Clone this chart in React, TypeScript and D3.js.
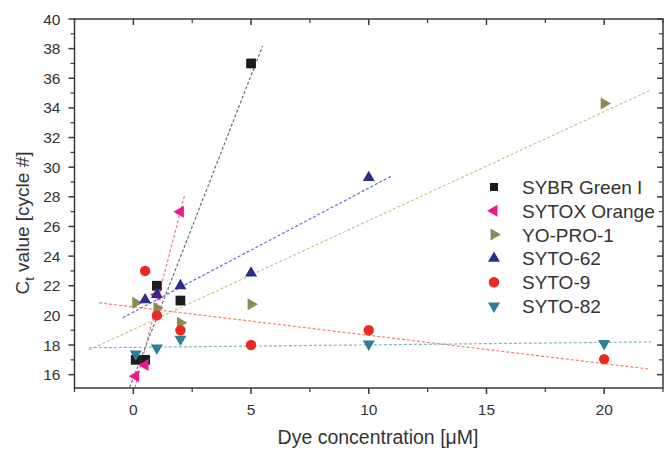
import React from 'react';
import * as d3 from 'd3';

// values
const seriesNames = ['SYBR Green I', 'SYTOX Orange', 'YO-PRO-1', 'SYTO-62', 'SYTO-9', 'SYTO-82'];
const sybrX = [0.1, 0.5, 1, 2, 5];
const sybrY = [17.0, 17.0, 22.0, 21.0, 37.0];
const sytoxX = [0.1, 0.5, 1, 2];
const sytoxY = [15.9, 16.65, 21.4, 27.0];
const yoproX = [0.1, 1, 2, 5, 20];
const yoproY = [20.85, 20.5, 19.5, 20.75, 34.3];
const syto62X = [0.5, 1, 2, 5, 10];
const syto62Y = [21.05, 21.4, 22.0, 22.85, 29.3];
const syto9X = [0.5, 1, 2, 5, 10, 20];
const syto9Y = [23.0, 20.0, 19.0, 18.0, 19.0, 17.05];
const syto82X = [0.1, 1, 2, 10, 20];
const syto82Y = [17.4, 17.8, 18.4, 18.07, 18.1];

const xTicks = [0, 5, 10, 15, 20];
const yTicks = [16, 18, 20, 22, 24, 26, 28, 30, 32, 34, 36, 38, 40];

const W = 664;
const H = 450;
const left = 74.5, right = 663, top = 19, bottom = 388;
const font = 'Liberation Sans, Arial, sans-serif';
const axisColor = '#3a3a3a';
const textColor = '#333';

const series = [
  { name: seriesNames[0], xs: sybrX, ys: sybrY, color: '#1c1c1c', fit: '#6a6a78', shape: 'square' },
  { name: seriesNames[1], xs: sytoxX, ys: sytoxY, color: '#e8198c', fit: '#f070b0', shape: 'left' },
  { name: seriesNames[2], xs: yoproX, ys: yoproY, color: '#8c8a52', fit: '#c4c48c', shape: 'right' },
  { name: seriesNames[3], xs: syto62X, ys: syto62Y, color: '#2a2d8e', fit: '#6a6ad0', shape: 'up' },
  { name: seriesNames[4], xs: syto9X, ys: syto9Y, color: '#ee2822', fit: '#f08068', shape: 'circle' },
  { name: seriesNames[5], xs: syto82X, ys: syto82Y, color: '#2e7e98', fit: '#80b8b4', shape: 'down' },
];

function symbolPath(shape: string) {
  if (shape === 'square') return d3.symbol(d3.symbolSquare, 95)() as string;
  if (shape === 'circle') return d3.symbol(d3.symbolCircle, 85)() as string;
  return d3.symbol(d3.symbolTriangle, 62)() as string;
}

function rotation(shape: string) {
  if (shape === 'left') return -90;
  if (shape === 'right') return 90;
  if (shape === 'down') return 180;
  return 0;
}

// least squares line, spanning the data range plus 10% on each side
function fitLine(xs: number[], ys: number[]) {
  const mx = d3.mean(xs) as number;
  const my = d3.mean(ys) as number;
  const sxy = d3.sum(xs, (x, i) => (x - mx) * (ys[i] - my));
  const sxx = d3.sum(xs, (x) => (x - mx) * (x - mx));
  const slope = sxy / sxx;
  const b = my - slope * mx;
  const [x0, x1] = d3.extent(xs) as [number, number];
  const pad = (x1 - x0) * 0.1;
  return [x0 - pad, x1 + pad].map((x) => [x, b + slope * x] as [number, number]);
}

export default function App() {
  const x = d3.scaleLinear().domain([-2.5, 22.5]).range([left, right]);
  const y = d3.scaleLinear().domain([15.1, 40]).range([bottom, top]);
  const line = d3.line<[number, number]>().x((d) => x(d[0])).y((d) => y(d[1]));

  const xMinor = d3.range(-2.5, 22.6, 2.5).filter((v) => !xTicks.includes(v));
  const yMinor = d3.range(16, 40, 1).filter((v) => !yTicks.includes(v));

  return (
    <svg width={W} height={H} style={{ position: 'absolute', left: 0, top: 0 }} fontFamily={font}>
      <rect width={W} height={H} fill="#fff" />
      <defs>
        <clipPath id="plot">
          <rect x={left} y={top} width={right - left} height={bottom - top} />
        </clipPath>
      </defs>

      {/* fit lines */}
      <g clipPath="url(#plot)">
        {series.map((s) => (
          <path
            key={s.name}
            d={line(fitLine(s.xs, s.ys)) as string}
            fill="none"
            stroke={s.fit}
            strokeWidth={1.2}
            strokeDasharray="3,2"
          />
        ))}
      </g>

      {/* markers */}
      {series.map((s) => (
        <g key={s.name}>
          {s.xs.map((v, i) => (
            <path
              key={i}
              d={symbolPath(s.shape)}
              fill={s.color}
              transform={`translate(${x(v)},${y(s.ys[i])}) rotate(${rotation(s.shape)})`}
            />
          ))}
        </g>
      ))}

      {/* frame */}
      <rect x={left} y={top} width={right - left} height={bottom - top} fill="none" stroke={axisColor} strokeWidth={1.5} />

      {/* x ticks */}
      {xTicks.map((t) => (
        <g key={t}>
          <line x1={x(t)} x2={x(t)} y1={bottom} y2={bottom + 6} stroke={axisColor} strokeWidth={1.5} />
          <line x1={x(t)} x2={x(t)} y1={top} y2={top + 6} stroke={axisColor} strokeWidth={1.5} />
          <text x={x(t)} y={bottom + 27} textAnchor="middle" fontSize={15.5} fill={textColor}>{t}</text>
        </g>
      ))}
      {xMinor.map((t) => (
        <g key={t}>
          <line x1={x(t)} x2={x(t)} y1={bottom} y2={bottom + 4} stroke={axisColor} strokeWidth={1.2} />
          <line x1={x(t)} x2={x(t)} y1={top} y2={top + 4} stroke={axisColor} strokeWidth={1.2} />
        </g>
      ))}

      {/* y ticks */}
      {yTicks.map((t) => (
        <g key={t}>
          <line x1={left - 6} x2={left} y1={y(t)} y2={y(t)} stroke={axisColor} strokeWidth={1.5} />
          <line x1={right - 6} x2={right} y1={y(t)} y2={y(t)} stroke={axisColor} strokeWidth={1.5} />
          <text x={left - 14} y={y(t) + 5.5} textAnchor="end" fontSize={15.5} fill={textColor}>{t}</text>
        </g>
      ))}
      {yMinor.map((t) => (
        <g key={t}>
          <line x1={left - 4} x2={left} y1={y(t)} y2={y(t)} stroke={axisColor} strokeWidth={1.2} />
          <line x1={right - 4} x2={right} y1={y(t)} y2={y(t)} stroke={axisColor} strokeWidth={1.2} />
        </g>
      ))}

      {/* axis titles */}
      <text x={378} y={444} textAnchor="middle" fontSize={19.5} fill={textColor}>
        Dye concentration [μM]
      </text>
      <text transform="translate(29,223) rotate(-90)" textAnchor="middle" fontSize={19} fill={textColor}>
        C<tspan dy={5} fontSize={13}>t</tspan><tspan dy={-5}> value [cycle #]</tspan>
      </text>

      {/* legend */}
      {series.map((s, i) => {
        const ly = 187 + i * 23.8;
        return (
          <g key={s.name}>
            <path
              d={s.shape === 'square' ? (d3.symbol(d3.symbolSquare, 64)() as string) : symbolPath(s.shape)}
              fill={s.color}
              transform={`translate(494,${ly}) rotate(${rotation(s.shape)})`}
            />
            <text x={522} y={ly + 7} fontSize={19} fill={textColor}>{s.name}</text>
          </g>
        );
      })}
    </svg>
  );
}
